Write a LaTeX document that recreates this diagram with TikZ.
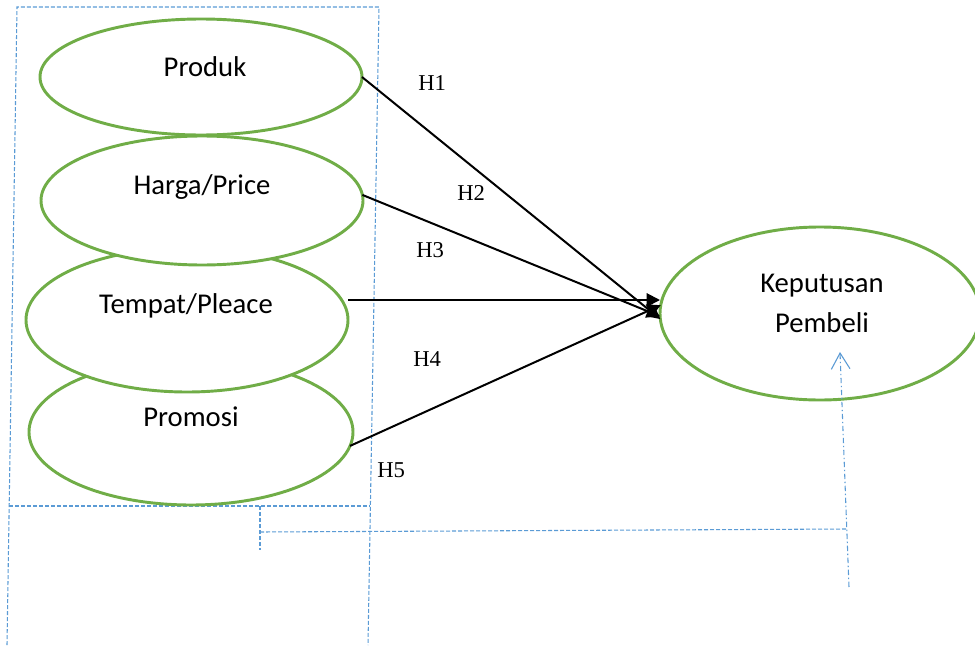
\documentclass[tikz,border=0pt]{standalone}
\usepackage{fontspec}
\setmainfont{Liberation Serif}
\newfontfamily\calib{Carlito}
\usetikzlibrary{shapes.geometric,arrows.meta}
\definecolor{ogreen}{HTML}{70AD47}
\definecolor{oblue}{HTML}{5B9BD5}
\begin{document}
\begin{tikzpicture}[x=0.75pt,y=-0.75pt,
  var/.style={ellipse,draw=ogreen,line width=2.2pt,fill=white,inner sep=0pt,outer sep=0pt},
  lbl/.style={font=\calib\fontsize{21.5}{30}\selectfont,anchor=base,inner sep=0pt},
  hyp/.style={font=\fontsize{17}{20}\selectfont,anchor=base west,inner sep=0pt},
  arr/.style={line width=1.5pt,-{Triangle[length=10pt,width=10pt]}},
  frame/.style={oblue,line width=0.8pt,dash pattern=on 3pt off 1.5pt},
  dashdot/.style={oblue,line width=0.8pt,dash pattern=on 4pt off 2pt on 1pt off 2pt}]
\useasboundingbox (0,0) rectangle (975,650);

% dashed frame
\coordinate (fa) at (17,7);
\coordinate (fb) at (379,7);
\coordinate (fc) at (368,645);
\coordinate (fd) at (7,645);
\draw[frame] (fd) -- (fa) -- (fb) -- (fc);
\coordinate (ha) at (9,506);
\coordinate (hb) at (370,506);
\draw[frame] (ha) -- (hb);
\coordinate (ja) at (260,506);
\coordinate (jb) at (260,550);
\coordinate (jc) at (260,532);
\coordinate (jd) at (847,529);
\draw[frame] (ja) -- (jb);
\draw[frame] (jc) -- (jd);

% ellipses
\node[var,minimum width=243pt,minimum height=109.5pt] (pm) at (191,432) {};
\node[var,minimum width=241.5pt,minimum height=108pt] (tp) at (187,320) {};
\node[var,minimum width=241.5pt,minimum height=96.75pt] (hp) at (202,200.5) {};
\node[var,minimum width=241.5pt,minimum height=87pt] (pr) at (201,77) {};
\node[var,minimum width=240pt,minimum height=129.75pt] (kp) at (820,313.5) {};

% texts
\node[lbl] (prt) at (205,76) {Produk};
\node[lbl] (hpt) at (202,194) {Harga/Price};
\node[lbl] (tpt) at (186,313) {Tempat/Pleace};
\node[lbl] (pmt) at (191,426) {Promosi};
\node[lbl] (kpt1) at (822,292) {Keputusan};
\node[lbl] (kpt2) at (822,332) {Pembeli};

% arrows
\coordinate (tpo) at (348,300);
\draw[arr] (pr.east) -- (kp.182);
\draw[arr] (hp.2) -- (kp.181);
\draw[arr] (tpo) -- (tpo -| kp.west);
\draw[arr] (pm.-5) -- (kp.177);

% hypothesis labels
\node[hyp] (h1) at (418,90) {H1};
\node[hyp] (h2) at (457,200) {H2};
\node[hyp] (h3) at (416,257) {H3};
\node[hyp] (h4) at (413,366) {H4};
\node[hyp] (h5) at (377,477) {H5};

% dash-dot arrow
\coordinate (va) at (849,587);
\coordinate (vb) at (840,352);
\draw[dashdot,-{Straight Barb[length=12pt,width=14pt]}] (va) -- (vb);
\end{tikzpicture}
\end{document}
